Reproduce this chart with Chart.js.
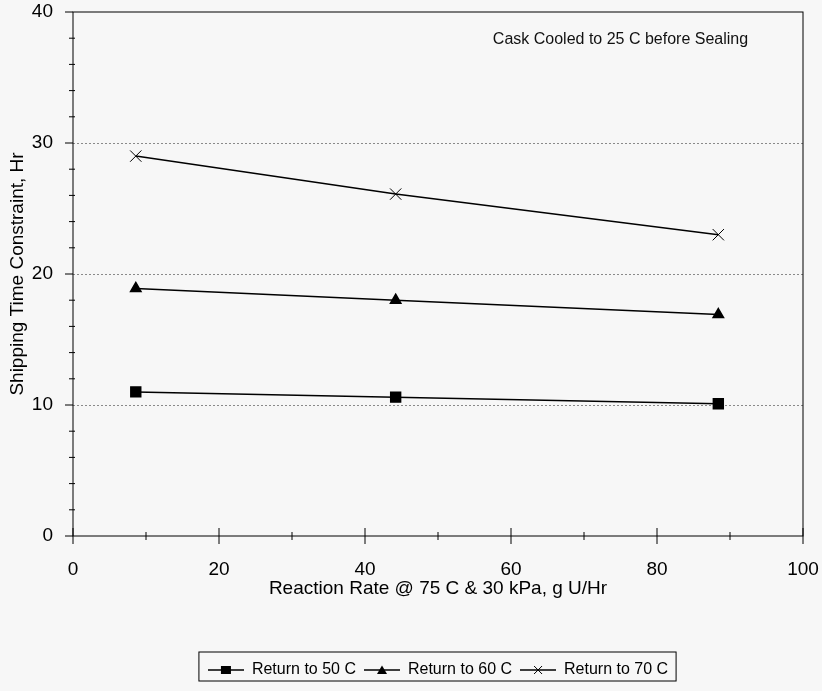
<!DOCTYPE html>
<html>
<head>
<meta charset="utf-8">
<script src="https://cdn.jsdelivr.net/npm/chart.js@4"></script>
<style>
  html, body { margin: 0; padding: 0; background: #f7f7f7; }
  #wrap { width: 822px; height: 691px; position: relative; }
</style>
</head>
<body>
<div id="wrap"><canvas id="chart"></canvas></div>
<script>
// values
const rates = [8.6, 44.2, 88.4];          // reaction rate, g U/Hr
const ret50 = [11.0, 10.6, 10.1];         // Return to 50 C
const ret60 = [18.9, 18.0, 16.9];         // Return to 60 C
const ret70 = [29.0, 26.1, 23.0];         // Return to 70 C
const seriesNames = ['Return to 50 C', 'Return to 60 C', 'Return to 70 C'];
const xTickLabels = [0, 20, 40, 60, 80, 100];
const yTickLabels = [0, 10, 20, 30, 40];
const noteText = 'Cask Cooled to 25 C before Sealing';
const xTitle = 'Reaction Rate @ 75 C & 30 kPa, g U/Hr';
const yTitle = 'Shipping Time Constraint, Hr';

const FONT = '"Liberation Sans", Arial, sans-serif';
Chart.defaults.font.family = FONT;
Chart.defaults.color = '#000';

// small line+marker pictures for the legend
function legendIcon(style) {
  const c = document.createElement('canvas');
  c.width = 36; c.height = 12;
  const g = c.getContext('2d');
  g.strokeStyle = '#000'; g.fillStyle = '#000'; g.lineWidth = 1.5;
  g.beginPath(); g.moveTo(0, 6); g.lineTo(36, 6); g.stroke();
  if (style === 'rect') {
    g.fillRect(13, 2, 10, 8);
  } else if (style === 'triangle') {
    g.beginPath(); g.moveTo(18, 1.5); g.lineTo(23, 10); g.lineTo(13, 10); g.closePath(); g.fill();
  } else {
    g.lineWidth = 1;
    g.beginPath(); g.moveTo(14, 2); g.lineTo(22, 10); g.moveTo(22, 2); g.lineTo(14, 10); g.stroke();
  }
  return c;
}
const icons = [legendIcon('rect'), legendIcon('triangle'), legendIcon('cross')];

function pts(ys) { return rates.map((r, i) => ({x: r, y: ys[i]})); }

// frame, tick marks, note and legend box
const extras = {
  id: 'extras',
  afterDraw(chart) {
    const {ctx, chartArea: a, scales: {x, y}} = chart;
    ctx.save();
    ctx.strokeStyle = '#000';
    ctx.lineWidth = 1;
    ctx.strokeRect(a.left, a.top, a.right - a.left, a.bottom - a.top);
    ctx.beginPath();
    y.ticks.forEach(t => {
      const py = y.getPixelForValue(t.value);
      const major = yTickLabels.includes(t.value);
      ctx.moveTo(a.left - (major ? 8 : 4), py);
      ctx.lineTo(a.left + (major ? 0 : 2), py);
    });
    x.ticks.forEach(t => {
      const px = x.getPixelForValue(t.value);
      const major = xTickLabels.includes(t.value);
      ctx.moveTo(px, a.bottom - (major ? 8 : 4));
      ctx.lineTo(px, a.bottom + (major ? 8 : 4));
    });
    ctx.stroke();

    ctx.fillStyle = '#111';
    ctx.font = '16px ' + FONT;
    ctx.textAlign = 'center';
    ctx.textBaseline = 'middle';
    ctx.fillText(noteText, x.getPixelForValue(75), y.getPixelForValue(37.9));

    const hb = chart.legend.legendHitBoxes;
    if (hb && hb.length) {
      const l = Math.min(...hb.map(b => b.left)) - 9;
      const r = Math.max(...hb.map(b => b.left + b.width)) + 8;
      const t = hb[0].top - 10;
      const b = hb[0].top + hb[0].height + 3;
      ctx.strokeRect(l, t, r - l, b - t);
    }
    ctx.restore();
  }
};

new Chart(document.getElementById('chart'), {
  type: 'line',
  data: {
    datasets: [
      {
        label: seriesNames[0], data: pts(ret50),
        borderColor: '#000', borderWidth: 1.5, backgroundColor: '#000',
        pointStyle: 'rect', pointRadius: 7, pointBackgroundColor: '#000', pointBorderColor: '#000'
      },
      {
        label: seriesNames[1], data: pts(ret60),
        borderColor: '#000', borderWidth: 1.5, backgroundColor: '#000',
        pointStyle: 'triangle', pointRadius: 6, pointBackgroundColor: '#000', pointBorderColor: '#000'
      },
      {
        label: seriesNames[2], data: pts(ret70),
        borderColor: '#000', borderWidth: 1.5, backgroundColor: '#000',
        pointStyle: 'crossRot', pointRadius: 8, pointBorderWidth: 1, pointBorderColor: '#000'
      }
    ]
  },
  options: {
    responsive: true,
    maintainAspectRatio: false,
    animation: false,
    layout: { autoPadding: false, padding: { left: 0, right: 19, top: 12, bottom: 3 } },
    plugins: {
      tooltip: { enabled: false },
      legend: {
        position: 'bottom',
        fullSize: false,
        labels: {
          usePointStyle: true,
          pointStyleWidth: 36,
          boxHeight: 12,
          padding: 8,
          color: '#000',
          font: { size: 16 },
          generateLabels(chart) {
            const items = Chart.defaults.plugins.legend.labels.generateLabels(chart);
            items.forEach((it, i) => { it.pointStyle = icons[i]; });
            return items;
          }
        }
      }
    },
    scales: {
      x: {
        type: 'linear', min: 0, max: 100,
        grid: { display: false, drawTicks: false },
        border: { display: false },
        ticks: {
          stepSize: 10, padding: 22, autoSkip: false, maxRotation: 0,
          font: { size: 19 }, color: '#000',
          callback: v => xTickLabels.includes(v) ? String(v) : ''
        },
        title: { display: true, text: xTitle, font: { size: 19 }, color: '#000', padding: { top: 2, bottom: 54 } },
        afterFit(s) { s.height = 118; s.paddingLeft = 0; s.paddingRight = 0; }
      },
      y: {
        min: 0, max: 40,
        grid: {
          drawTicks: false, lineWidth: 1,
          color: c => [10, 20, 30].includes(c.tick.value) ? '#8a8a8a' : 'rgba(0,0,0,0)'
        },
        border: { display: false, dash: [2, 2] },
        ticks: {
          stepSize: 2, padding: 20, autoSkip: false,
          font: { size: 19 }, color: '#000',
          callback: v => yTickLabels.includes(v) ? String(v) : ''
        },
        title: { display: true, text: yTitle, font: { size: 19 }, color: '#000', padding: { top: 6, bottom: 2 } },
        afterFit(s) { s.width = 73; s.paddingTop = 0; s.paddingBottom = 0; }
      }
    }
  },
  plugins: [extras]
});
</script>
</body>
</html>
